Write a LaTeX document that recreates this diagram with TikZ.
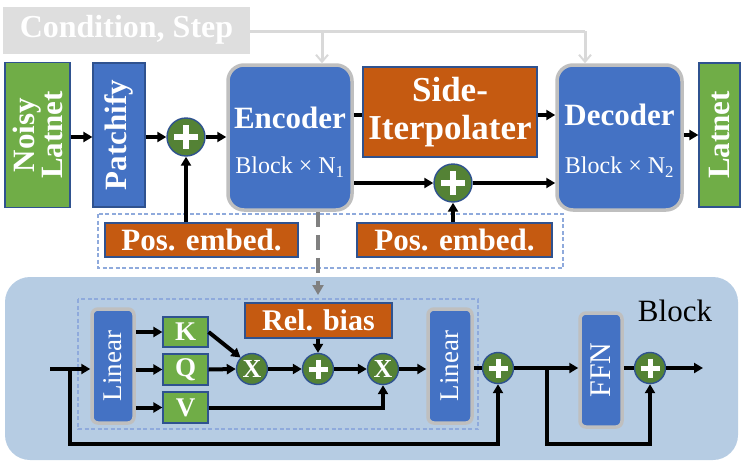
\documentclass[tikz,border=0pt]{standalone}
\usepackage{fontspec}
\setmainfont{Liberation Serif}
\usetikzlibrary{arrows.meta,calc}
\definecolor{mblue}{HTML}{4472C4}
\definecolor{lgreen}{HTML}{70AD47}
\definecolor{orng}{HTML}{C55A11}
\definecolor{dgreen}{HTML}{548235}
\definecolor{bordblue}{HTML}{2F528F}
\definecolor{lgray}{HTML}{BFBFBF}
\definecolor{condgray}{HTML}{DEDEDE}
\definecolor{condline}{HTML}{D9D9D9}
\definecolor{dashblue}{HTML}{8FAADC}
\definecolor{blockbg}{HTML}{B6CCE3}
\definecolor{dashgray}{HTML}{808080}
\newcommand\fsz[2]{\fontsize{#1}{#2}\selectfont}
\begin{document}
\begin{tikzpicture}[x=1pt,y=-1pt,
  flatbox/.style={draw=bordblue,line width=1.2pt,inner sep=0pt,text=white},
  greenbox/.style={flatbox,fill=lgreen},
  bluebox/.style={flatbox,fill=mblue},
  orangebox/.style={flatbox,fill=orng},
  bigblock/.style={draw=lgray,line width=3.5pt,fill=mblue,rounded corners=16pt,inner sep=0pt},
  linbox/.style={draw=lgray,line width=3.5pt,fill=mblue,rounded corners=6pt,inner sep=0pt},
  txt/.style={text=white,inner sep=0pt},
  bigop/.style={circle,fill=dgreen,draw=bordblue,line width=1.4pt,minimum size=38pt,inner sep=0pt},
  smallop/.style={circle,fill=dgreen,draw=bordblue,line width=1.4pt,minimum size=31pt,inner sep=0pt},
  plusbig/.style={bigop,path picture={\draw[white,line width=6.5pt]
     ($(path picture bounding box.center)+(-12,0)$) -- ($(path picture bounding box.center)+(12,0)$)
     ($(path picture bounding box.center)+(0,-12)$) -- ($(path picture bounding box.center)+(0,12)$);}},
  plussmall/.style={smallop,path picture={\draw[white,line width=5pt]
     ($(path picture bounding box.center)+(-9.5,0)$) -- ($(path picture bounding box.center)+(9.5,0)$)
     ($(path picture bounding box.center)+(0,-9.5)$) -- ($(path picture bounding box.center)+(0,9.5)$);}},
  arr/.style={line width=4pt,-{Triangle[length=9pt,width=10pt]}},
  ln/.style={line width=4pt},
  condarr/.style={draw=condline,line width=3pt,-{Straight Barb[length=7pt,width=12pt,line width=2pt]}},
  dashbox/.style={draw=dashblue,line width=1.2pt,dash pattern=on 4pt off 2.5pt}
]
\useasboundingbox (0,0) rectangle (744,467);

% Block background
\fill[blockbg,rounded corners=25pt] (5,277) rectangle (738,460);
% dashed boxes
\draw[dashbox] (98,214) rectangle (563,268);
\draw[dashbox] (78,299) rectangle (478,429);

% condition
\node[fill=condgray,minimum width=247pt,minimum height=47pt,inner sep=0pt,text=white,
  font=\fsz{32}{32}\bfseries] (cond) at (126.5,30) {Condition, Step};

% top row
\node[greenbox,minimum width=65pt,minimum height=145pt] (noisy) at (37.5,135) {};
\node[txt,rotate=90,align=center,font=\fsz{31}{26}\bfseries] (noisyt) at (noisy.center) {Noisy\\Latnet};
\node[bluebox,minimum width=52pt,minimum height=144pt] (patch) at (119,135) {};
\node[txt,rotate=90,font=\fsz{31}{31}\bfseries] (patcht) at (patch.center) {Patchify};
\node[plusbig] (p1) at (186,137) {};

\node[bigblock,minimum width=124pt,minimum height=145pt] (enc) at (290,137.5) {};
\node[txt,font=\fsz{31}{31}\bfseries] (enct) at (290,118) {Encoder};
\node[txt,font=\fsz{24}{24}] (encs) at (290,167) {Block × N\textsubscript{1}};

\node[orangebox,minimum width=174pt,minimum height=90pt,align=center,
  font=\fsz{35}{38}\bfseries] (side) at (450,112) {Side-\\Iterpolater};

\node[bigblock,minimum width=125pt,minimum height=145pt] (dec) at (619.5,137.5) {};
\node[txt,font=\fsz{31}{31}\bfseries] (dect) at (619.5,115) {Decoder};
\node[txt,font=\fsz{24}{24}] (decs) at (619.5,167) {Block × N\textsubscript{2}};

\node[greenbox,minimum width=41pt,minimum height=144pt] (lat) at (719.5,135) {};
\node[txt,rotate=90,font=\fsz{31}{31}\bfseries] (latt) at (lat.center) {Latnet};

\node[plusbig] (p2) at (453,183) {};
\node[orangebox,minimum width=193pt,minimum height=34pt,font=\fsz{31}{31}\bfseries] (pe1) at (201.5,240) {Pos. embed.};
\node[orangebox,minimum width=195pt,minimum height=34pt,font=\fsz{31}{31}\bfseries] (pe2) at (454.5,240) {Pos. embed.};

% condition lines
\coordinate (cbr) at (322,31);
\coordinate (ccorner) at (585,31);
\draw[draw=condline,line width=3pt] (cond.east |- ccorner) -- (ccorner);
\draw[condarr] (ccorner) -- (ccorner |- dec.north);
\draw[condarr] (cbr) -- (cbr |- enc.north);

% top connectors
\draw[arr] (noisy.east |- p1) -- (patch.west |- p1);
\draw[arr] (patch.east |- p1) -- (p1.west);
\draw[arr] (p1.east) -- (enc.west |- p1);
\draw[arr] (p1 |- pe1.north) -- (p1.south);
\coordinate (sy) at (0,115);
\draw[ln] (enc.east |- sy) -- (side.west |- sy);
\draw[arr] (side.east |- sy) -- (dec.west |- sy);
\draw[arr] (enc.east |- p2) -- (p2.west);
\draw[arr] (p2.east) -- (dec.west |- p2);
\draw[arr] (p2 |- pe2.north) -- (p2.south);
\draw[arr] (dec.east |- lat) -- (lat.west);

% dashed link from encoder to block
\coordinate (blk) at (318,295);
\draw[draw=dashgray,line width=3.5pt,dash pattern=on 15pt off 8pt,
  -{Triangle[length=10pt,width=11pt]}] (enc.south -| blk) -- (blk);

% Block contents
\node[font=\fsz{31}{31}] (blocklbl) at (675,311) {Block};
\node[linbox,minimum width=42pt,minimum height=114pt] (lin1) at (113,366) {};
\node[txt,rotate=90,font=\fsz{27}{27}] (lin1t) at (lin1.center) {Linear};
\node[greenbox,minimum width=45pt,minimum height=30pt,font=\fsz{27}{27}\bfseries] (K) at (185.5,332) {K};
\node[greenbox,minimum width=45pt,minimum height=31pt,font=\fsz{27}{27}\bfseries] (Q) at (185.5,369.5) {Q};
\node[greenbox,minimum width=45pt,minimum height=31pt,font=\fsz{27}{27}\bfseries] (V) at (185.5,407.5) {V};
\node[smallop,text=white,font=\fsz{26}{26}\bfseries] (x1) at (252,369) {X};
\node[plussmall] (p3) at (318,369) {};
\node[smallop,text=white,font=\fsz{26}{26}\bfseries] (x2) at (383,369) {X};
\node[orangebox,minimum width=147pt,minimum height=35pt,font=\fsz{30}{30}\bfseries] (rel) at (318.5,320.5) {Rel. bias};
\node[linbox,minimum width=44pt,minimum height=114pt] (lin2) at (450,366) {};
\node[txt,rotate=90,font=\fsz{27}{27}] (lin2t) at (lin2.center) {Linear};
\node[plussmall] (p4) at (498,368) {};
\node[linbox,minimum width=42pt,minimum height=114pt] (ffn) at (601,370) {};
\node[txt,rotate=90,font=\fsz{30}{30}] (ffnt) at (ffn.center) {FFN};
\node[plussmall] (p5) at (650,368) {};

\coordinate (in) at (50,369);
\coordinate (skip) at (70,369);
\coordinate (low) at (0,444);
\coordinate (br2) at (547,368);
\coordinate (out) at (703,368);

\draw[arr] (in) -- (lin1.west |- in);
\draw[arr] (skip) -- (skip |- low) -- (p4 |- low) -- (p4.south);
\draw[arr] (lin1.east |- K) -- (K.west);
\draw[arr] (lin1.east |- Q) -- (Q.west);
\draw[arr] (lin1.east |- V) -- (V.west);
\draw[arr] (K.east) -- (x1.north west);
\draw[arr] (Q.east) -- (x1.west);
\draw[arr] (x1.east) -- (p3.west);
\draw[arr] (p3.east) -- (x2.west);
\draw[arr] (rel.south -| p3) -- (p3.north);
\draw[arr] (V.east) -- (x2 |- V) -- (x2.south);
\draw[arr] (x2.east) -- (lin2.west |- x2);
\draw[ln] (lin2.east |- p4) -- (p4.west);
\draw[arr] (p4.east) -- (ffn.west |- p4);
\draw[arr] (br2) -- (br2 |- low) -- (p5 |- low) -- (p5.south);
\draw[ln] (ffn.east |- p5) -- (p5.west);
\draw[arr] (p5.east) -- (out);
\end{tikzpicture}
\end{document}
